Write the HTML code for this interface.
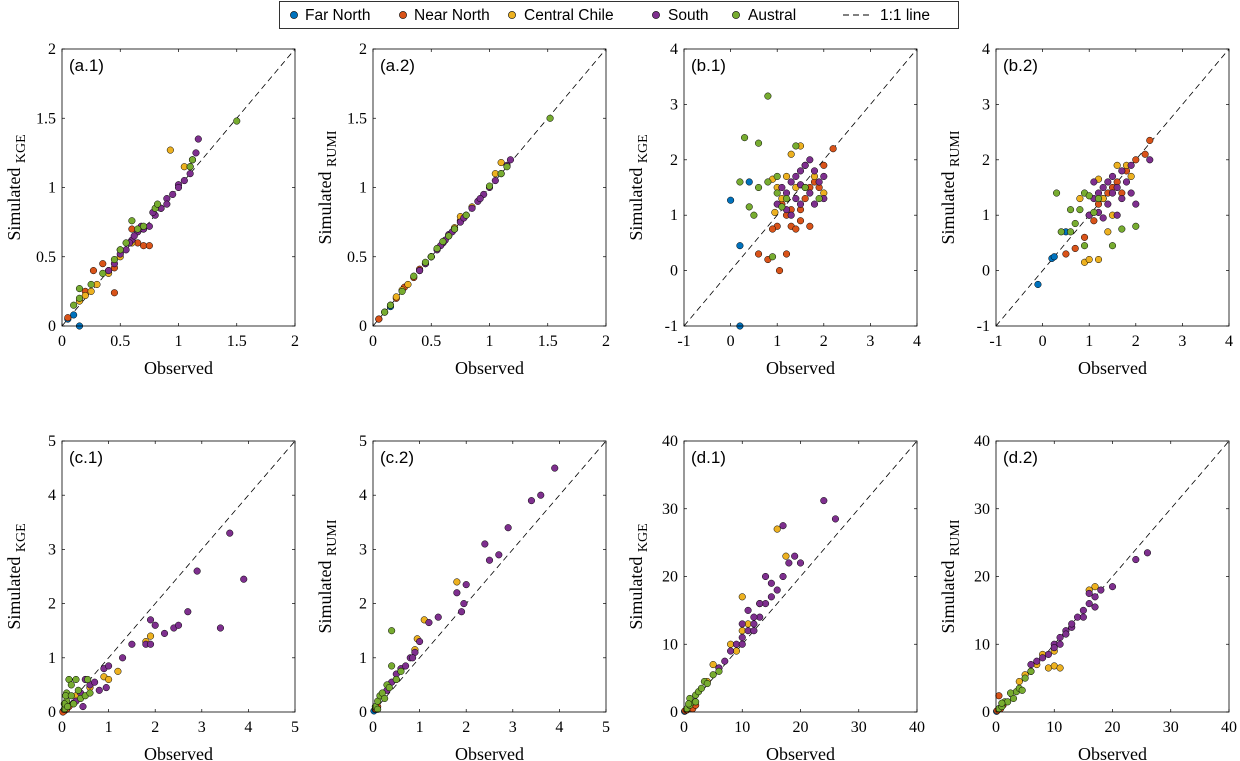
<!DOCTYPE html>
<html><head><meta charset="utf-8"><style>
html,body{margin:0;padding:0;background:#fff;}
svg{display:block;}
</style></head><body>
<svg id="fig" width="1240" height="761" viewBox="0 0 1240 761" xmlns="http://www.w3.org/2000/svg">
<g>
<rect x="279.5" y="1.5" width="679" height="27" fill="#fff" stroke="#000" stroke-width="0.8"/>
<g font-family="Liberation Sans, sans-serif" font-size="15.5" fill="#000">
<circle cx="294" cy="15" r="3.6" fill="#0072BD" stroke="#000" stroke-width="0.6"/><text x="305" y="20">Far North</text>
<circle cx="403" cy="15" r="3.6" fill="#D95319" stroke="#000" stroke-width="0.6"/><text x="414" y="20">Near North</text>
<circle cx="512" cy="15" r="3.6" fill="#EDB120" stroke="#000" stroke-width="0.6"/><text x="524" y="20">Central Chile</text>
<circle cx="656" cy="15" r="3.6" fill="#7E2F8E" stroke="#000" stroke-width="0.6"/><text x="668" y="20">South</text>
<circle cx="736" cy="15" r="3.6" fill="#77AC30" stroke="#000" stroke-width="0.6"/><text x="748" y="20">Austral</text>
<line x1="843" y1="15" x2="871" y2="15" stroke="#000" stroke-width="0.9" stroke-dasharray="6,4"/><text x="880" y="20">1:1 line</text>
</g></g>
</svg>
<script>
const regionColors=["#0072BD","#D95319","#EDB120","#7E2F8E","#77AC30"];
// a.1
const a1_fn=[[0.05,0.05],[0.1,0.08],[0.15,0.0]];
const a1_nn=[[0.05,0.06],[0.2,0.25],[0.27,0.4],[0.35,0.45],[0.4,0.4],[0.45,0.42],[0.45,0.24],[0.65,0.6],[0.7,0.58],[0.75,0.58],[0.6,0.7],[0.5,0.55]];
const a1_cc=[[0.15,0.18],[0.2,0.22],[0.25,0.25],[0.3,0.3],[0.4,0.38],[0.5,0.5],[0.6,0.6],[0.93,1.27],[1.05,1.15],[0.85,0.85],[1.1,1.15],[0.7,0.7]];
const a1_so=[[0.4,0.4],[0.45,0.45],[0.5,0.52],[0.55,0.55],[0.6,0.62],[0.65,0.68],[0.7,0.7],[0.75,0.72],[0.8,0.8],[0.85,0.85],[0.9,0.92],[0.95,0.95],[1.0,1.02],[1.05,1.05],[1.1,1.1],[1.12,1.2],[1.15,1.25],[1.17,1.35],[0.78,0.82],[0.68,0.72],[0.58,0.6],[1.0,1.0],[0.9,0.88],[0.62,0.65]];
const a1_au=[[0.1,0.15],[0.15,0.2],[0.15,0.27],[0.25,0.3],[0.35,0.38],[0.5,0.55],[0.55,0.6],[0.6,0.76],[0.7,0.72],[0.8,0.85],[0.82,0.88],[1.1,1.15],[1.12,1.2],[1.5,1.48],[0.45,0.48],[0.65,0.7]];
// a.2
const a2_fn=[[0.05,0.05],[0.1,0.1],[0.15,0.14]];
const a2_nn=[[0.05,0.05],[0.2,0.2],[0.27,0.28],[0.35,0.35],[0.4,0.41],[0.45,0.45],[0.5,0.5],[0.65,0.65],[0.7,0.7],[0.75,0.76]];
const a2_cc=[[0.15,0.15],[0.2,0.21],[0.25,0.26],[0.3,0.3],[0.4,0.4],[0.5,0.5],[0.6,0.6],[0.75,0.79],[1.05,1.1],[0.85,0.86],[1.1,1.18],[0.7,0.71]];
const a2_so=[[0.4,0.4],[0.45,0.45],[0.5,0.5],[0.55,0.55],[0.6,0.6],[0.65,0.66],[0.7,0.7],[0.75,0.75],[0.8,0.8],[0.85,0.85],[0.9,0.9],[0.95,0.95],[1.0,1.0],[1.05,1.05],[1.1,1.1],[1.15,1.16],[1.18,1.2],[0.78,0.78],[0.68,0.68],[0.58,0.58],[0.92,0.92],[0.62,0.62]];
const a2_au=[[0.1,0.1],[0.15,0.15],[0.25,0.25],[0.35,0.36],[0.5,0.5],[0.55,0.56],[0.6,0.61],[0.7,0.7],[0.8,0.8],[1.0,1.01],[1.1,1.1],[1.15,1.15],[1.52,1.5],[0.45,0.46],[0.65,0.65]];
// b.1
const b1_fn=[[0,1.27],[0.2,0.45],[0.4,1.6],[0.2,-1.0]];
const b1_nn=[[0.6,0.3],[0.8,0.2],[1.05,0.0],[1.0,0.8],[1.1,1.2],[1.2,1.0],[1.3,0.8],[1.4,0.75],[1.5,1.1],[1.6,1.3],[1.7,1.5],[1.8,1.6],[2.0,1.9],[2.2,2.2],[0.9,0.75],[1.3,1.1],[1.5,0.9],[1.9,1.5],[1.7,0.8],[1.2,0.3]];
const b1_cc=[[0.9,1.65],[1.0,1.5],[1.1,1.3],[1.2,1.7],[1.3,2.1],[1.5,2.25],[1.6,1.9],[1.8,1.7],[2.0,1.4],[1.4,1.5],[0.95,1.05]];
const b1_so=[[1.0,1.2],[1.1,1.5],[1.2,1.4],[1.3,1.6],[1.4,1.7],[1.5,1.8],[1.6,1.9],[1.7,2.0],[1.8,1.8],[1.9,1.6],[2.0,1.3],[1.3,1.0],[1.5,1.2],[1.7,1.4],[1.4,1.3],[1.6,1.5],[1.2,1.1],[1.8,1.2],[2.0,1.7],[1.5,1.55]];
const b1_au=[[0.3,2.4],[0.8,3.15],[0.6,2.3],[0.9,0.25],[0.4,1.15],[0.5,1.0],[0.6,1.5],[0.8,1.6],[1.0,1.4],[1.2,1.3],[1.4,2.25],[1.0,1.7],[1.6,1.5],[1.9,1.3],[0.2,1.6],[1.1,1.15]];
// b.2
const b2_fn=[[-0.1,-0.25],[0.2,0.22],[0.25,0.25],[0.5,0.7]];
const b2_nn=[[0.5,0.3],[0.7,0.4],[0.9,0.6],[1.0,1.0],[1.2,1.2],[1.4,1.4],[1.5,1.5],[1.6,1.6],[1.8,1.8],[2.0,2.0],[2.2,2.1],[2.3,2.35],[1.3,1.3],[1.7,1.4],[1.1,0.9]];
const b2_cc=[[0.9,0.15],[1.0,0.2],[1.2,0.2],[1.4,0.7],[1.5,1.0],[1.6,1.9],[1.8,1.9],[1.9,1.7],[1.2,1.65],[0.8,1.3],[1.3,1.3]];
const b2_so=[[1.0,1.0],[1.1,1.3],[1.2,1.4],[1.3,1.5],[1.4,1.6],[1.5,1.7],[1.6,1.5],[1.7,1.3],[1.8,1.6],[1.9,1.4],[2.0,1.2],[2.3,2.0],[1.4,1.2],[1.6,1.0],[1.2,1.05],[1.5,1.4],[1.7,1.8],[1.3,0.95],[1.9,1.9],[1.1,1.6]];
const b2_au=[[0.3,1.4],[0.4,0.7],[0.6,0.7],[0.6,1.1],[0.8,1.1],[0.9,1.4],[1.0,1.35],[1.1,1.05],[1.5,0.45],[1.7,0.75],[2.0,0.8],[0.9,0.45],[1.2,1.3],[0.7,0.85]];
// c.1
const c1_fn=[[0.02,0.01]];
const c1_nn=[[0.05,0.02],[0.1,0.05],[0.15,0.1],[0.02,0.0]];
const c1_cc=[[0.9,0.65],[1.0,0.6],[1.2,0.75],[1.8,1.3],[1.9,1.4],[0.6,0.45],[0.3,0.3]];
const c1_so=[[0.5,0.6],[0.6,0.5],[0.7,0.55],[0.8,0.4],[0.9,0.8],[1.0,0.85],[1.3,1.0],[1.5,1.25],[1.8,1.25],[1.9,1.7],[2.0,1.6],[2.2,1.45],[2.4,1.55],[2.5,1.6],[2.7,1.85],[2.9,2.6],[3.4,1.55],[3.6,3.3],[3.9,2.45],[0.3,0.2],[0.4,0.35],[0.45,0.1],[1.9,1.25],[0.95,0.45]];
const c1_au=[[0.05,0.05],[0.1,0.2],[0.1,0.35],[0.15,0.6],[0.2,0.5],[0.25,0.15],[0.3,0.6],[0.35,0.4],[0.4,0.25],[0.5,0.3],[0.55,0.6],[0.6,0.35],[0.05,0.15],[0.08,0.3],[0.12,0.1],[0.2,0.3]];
// c.2
const c2_fn=[[0.02,0.02]];
const c2_nn=[[0.05,0.05],[0.1,0.1]];
const c2_cc=[[0.9,1.15],[1.1,1.7],[1.8,2.4],[0.95,1.35],[0.5,0.6]];
const c2_so=[[0.3,0.4],[0.5,0.7],[0.6,0.8],[0.7,0.85],[0.8,1.0],[0.9,1.1],[1.0,1.3],[1.2,1.65],[1.4,1.75],[1.8,2.2],[1.9,1.85],[2.0,2.35],[2.4,3.1],[2.5,2.8],[2.7,2.9],[2.9,3.4],[3.4,3.9],[3.6,4.0],[3.9,4.5],[1.95,2.0],[0.85,1.0],[0.4,0.55]];
const c2_au=[[0.05,0.1],[0.1,0.2],[0.15,0.3],[0.2,0.35],[0.3,0.5],[0.4,0.85],[0.4,1.5],[0.25,0.25],[0.5,0.6],[0.6,0.75],[0.1,0.05],[0.35,0.45]];
// d.1
const d1_fn=[[0.1,0.1]];
const d1_nn=[[0.2,0.2],[0.5,0.3],[1,0.6],[1.5,0.5],[2,1]];
const d1_cc=[[4,4.5],[5,7],[6,6.5],[8,10],[10,12],[10,17],[13,16],[16,27],[17.5,23],[9,9],[11,13]];
const d1_so=[[8,9],[9,10],[10,11],[11,12],[12,13],[13,14],[14,16],[15,17],[16,18],[17,20],[18,22],[19,23],[20,22],[10,13],[12,14],[13,16],[15,19],[17,27.5],[24,31.2],[26,28.5],[6,6.5],[7,7.5],[11,15],[14,20],[10,10],[12,12]];
const d1_au=[[0.5,0.5],[1,1],[1.5,1.5],[2,2.5],[2.5,3],[3,3.5],[3.5,4.5],[4,4.2],[1,2],[2,1.5],[0.8,1.2],[6,6],[5,5.5]];
// d.2
const d2_fn=[[0.1,0.1]];
const d2_nn=[[0.5,2.4],[0.2,0.2],[0.8,0.5],[1.2,1]];
const d2_cc=[[4,4.5],[5,5.5],[6,6],[7,7],[8,8.5],[9,6.5],[10,6.8],[11,6.5],[17,18.5],[16,18],[10,9]];
const d2_so=[[8,8],[9,8.5],[10,10],[11,11],[12,12],[13,12.5],[14,14],[15,15],[16,16],[17,17],[18,18],[20,18.5],[24,22.5],[26,23.5],[10,9.5],[11,10],[12,11.5],[13,13],[15,14],[6,7],[7,7.5],[16,17.5],[17,15.5]];
const d2_au=[[0.5,0.5],[1,0.8],[1.5,1.5],[2,1.5],[3,2],[3.5,3],[4,3.5],[5,5],[6,6],[2.5,2.8],[1,1.3],[4.5,3.2]];

const ticksA=["0","0.5","1","1.5","2"], ticksB=["-1","0","1","2","3","4"], ticksC=["0","1","2","3","4","5"], ticksD=["0","10","20","30","40"];

const panels=[
 {id:"a1",label:"(a.1)",sub:"KGE",x0:62,y0:49,min:0,max:2,ticks:ticksA,data:[a1_fn,a1_nn,a1_cc,a1_so,a1_au]},
 {id:"a2",label:"(a.2)",sub:"RUMI",x0:373,y0:49,min:0,max:2,ticks:ticksA,data:[a2_fn,a2_nn,a2_cc,a2_so,a2_au]},
 {id:"b1",label:"(b.1)",sub:"KGE",x0:684,y0:49,min:-1,max:4,ticks:ticksB,data:[b1_fn,b1_nn,b1_cc,b1_so,b1_au]},
 {id:"b2",label:"(b.2)",sub:"RUMI",x0:996,y0:49,min:-1,max:4,ticks:ticksB,data:[b2_fn,b2_nn,b2_cc,b2_so,b2_au]},
 {id:"c1",label:"(c.1)",sub:"KGE",x0:62,y0:441,min:0,max:5,ticks:ticksC,data:[c1_fn,c1_nn,c1_cc,c1_so,c1_au]},
 {id:"c2",label:"(c.2)",sub:"RUMI",x0:373,y0:441,min:0,max:5,ticks:ticksC,data:[c2_fn,c2_nn,c2_cc,c2_so,c2_au]},
 {id:"d1",label:"(d.1)",sub:"KGE",x0:684,y0:441,min:0,max:40,ticks:ticksD,data:[d1_fn,d1_nn,d1_cc,d1_so,d1_au]},
 {id:"d2",label:"(d.2)",sub:"RUMI",x0:996,y0:441,min:0,max:40,ticks:ticksD,data:[d2_fn,d2_nn,d2_cc,d2_so,d2_au]}
];
const NS="http://www.w3.org/2000/svg";
const svg=document.getElementById("fig");
function mk(tag,attrs,parent){const e=document.createElementNS(NS,tag);for(const k in attrs)e.setAttribute(k,attrs[k]);parent.appendChild(e);return e;}
const regionNames=["far-north","near-north","central-chile","south","austral"];
panels.forEach(p=>{
 const W=233,H=p.y0===49?277:271;
 const sx=v=>p.x0+(v-p.min)/(p.max-p.min)*W;
 const sy=v=>p.y0+H-(v-p.min)/(p.max-p.min)*H;
 const g=mk("g",{},svg);
 
 
 const n=p.ticks.length;
 const tg=mk("g",{"font-family":"Liberation Serif, serif","font-size":"16",fill:"#000"},g);
 for(let i=0;i<n;i++){
  const v=p.min+i*(p.max-p.min)/(n-1);
  const X=sx(v),Y=sy(v);
  mk("line",{x1:X,y1:p.y0+H,x2:X,y2:p.y0+H-3,stroke:"#000","stroke-width":0.7},tg);
  mk("line",{x1:X,y1:p.y0,x2:X,y2:p.y0+3,stroke:"#000","stroke-width":0.7},tg);
  mk("line",{x1:p.x0,y1:Y,x2:p.x0+3,y2:Y,stroke:"#000","stroke-width":0.7},tg);
  mk("line",{x1:p.x0+W,y1:Y,x2:p.x0+W-3,y2:Y,stroke:"#000","stroke-width":0.7},tg);
  const xt=mk("text",{x:X,y:p.y0+H+20,"text-anchor":"middle"},tg);xt.textContent=p.ticks[i];
  
  
  const yt=mk("text",{x:p.x0-6,y:Y+5,"text-anchor":"end"},tg);yt.textContent=p.ticks[i];
  
  
 }
 const dl=mk("line",{x1:sx(p.min),y1:sy(p.min),x2:sx(p.max),y2:sy(p.max),stroke:"#000","stroke-width":0.8,"stroke-dasharray":"6,4"},g);
 
 
 p.data.forEach((arr,ri)=>{
  arr.forEach(pt=>{
   const c=mk("circle",{cx:sx(pt[0]),cy:sy(pt[1]),r:3.3,fill:regionColors[ri],stroke:"#000","stroke-width":0.5},g);
   
   
  });
 });
 const box=mk("rect",{x:p.x0,y:p.y0,width:W,height:H,fill:"none",stroke:"#000","stroke-width":0.8},g);
 
 
 const lb=mk("text",{x:p.x0+7,y:p.y0+22,"font-family":"Liberation Sans, sans-serif","font-size":"17",fill:"#000"},g);
 lb.textContent=p.label;
 
 
 const xl=mk("text",{x:p.x0+W/2,y:p.y0+H+48,"text-anchor":"middle","font-family":"Liberation Serif, serif","font-size":"18",fill:"#000"},g);
 xl.textContent="Observed";
 
 
 const cy=p.y0+H/2;
 const yl=mk("text",{x:0,y:0,"text-anchor":"middle",transform:`translate(${p.x0-42},${cy}) rotate(-90)`,"font-family":"Liberation Serif, serif","font-size":"18",fill:"#000"},g);
 
 
 const t1=mk("tspan",{},yl);t1.textContent="Simulated ";
 const t2=mk("tspan",{"font-size":"14",dy:"5"},yl);t2.textContent=p.sub;
});
</script>
</body></html>
